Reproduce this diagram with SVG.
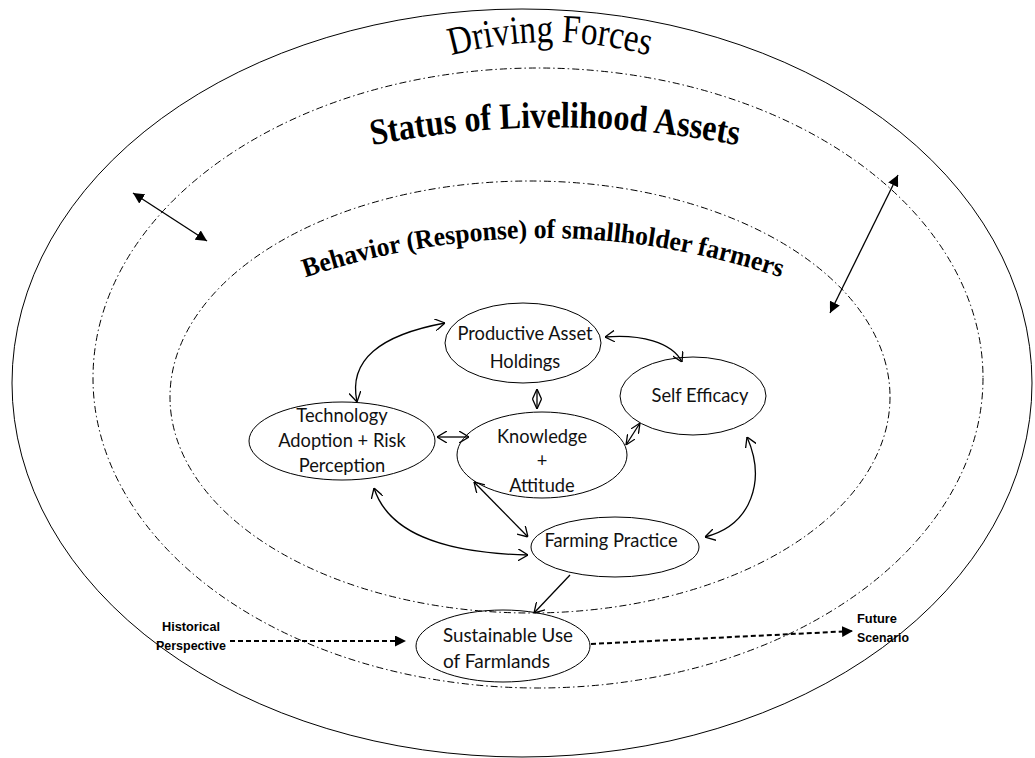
<svg xmlns="http://www.w3.org/2000/svg" width="1035" height="758" viewBox="0 0 1035 758">
<style>
.ring{fill:none;stroke:#000;stroke-width:1}
.dd{stroke-dasharray:7,3,1.5,3}
.node{fill:none;stroke:#000;stroke-width:1}
.lbl{font-family:Lato,"Liberation Sans",sans-serif;font-size:18.3px;fill:#111;text-anchor:middle}
.title{font-family:"Liberation Serif",serif;fill:#000}
.small{font-family:"Liberation Sans",sans-serif;font-size:12px;font-weight:bold;fill:#000}
.c{fill:none;stroke:#000;stroke-width:1.3}
.dash{fill:none;stroke:#000;stroke-width:2;stroke-dasharray:5,3}
</style>
<defs>
<marker id="v" viewBox="0 0 10 12" refX="10" refY="6" markerWidth="10" markerHeight="12" markerUnits="userSpaceOnUse" orient="auto-start-reverse">
<path d="M0,0 L10,6 L0,12" fill="none" stroke="#000" stroke-width="1.3"/>
</marker>
<marker id="vs" viewBox="0 0 10 10" refX="10" refY="5" markerWidth="10" markerHeight="10" markerUnits="userSpaceOnUse" orient="auto-start-reverse">
<path d="M0,0.5 L10,5 L0,9.5" fill="none" stroke="#000" stroke-width="1.3"/>
</marker>
<marker id="tri" viewBox="0 0 10 10" refX="10" refY="5" markerWidth="11" markerHeight="11" markerUnits="userSpaceOnUse" orient="auto-start-reverse">
<path d="M0,0 L10,5 L0,10 Z" fill="#000"/>
</marker>
<path id="arc1" d="M 380,82 Q 550,2 720,82"/>
<path id="arc2" d="M 300,162 Q 555,93 810,162"/>
<path id="arc3" d="M 250,298 Q 543,178 836,298"/>
</defs>
<rect width="1035" height="758" fill="#fff"/>

<g id="rings">
<ellipse class="ring" cx="522" cy="383" rx="510" ry="374"/>
<ellipse class="ring dd" cx="538" cy="378" rx="445" ry="310"/>
<ellipse class="ring dd" cx="530" cy="397" rx="360" ry="216"/>
</g>

<g id="titles">
<text class="title" font-size="40"><textPath href="#arc1" startOffset="50%" text-anchor="middle" textLength="200" lengthAdjust="spacingAndGlyphs">Driving Forces</textPath></text>
<text class="title" font-size="37" font-weight="bold"><textPath href="#arc2" startOffset="50%" text-anchor="middle" textLength="368" lengthAdjust="spacingAndGlyphs">Status of Livelihood Assets</textPath></text>
<text class="title" font-size="27" font-weight="bold"><textPath href="#arc3" startOffset="50%" text-anchor="middle" textLength="484" lengthAdjust="spacingAndGlyphs">Behavior (Response) of smallholder farmers</textPath></text>
</g>

<g id="connectors">
<line class="c" x1="133" y1="193" x2="207" y2="241" marker-start="url(#tri)" marker-end="url(#tri)"/>
<line class="c" x1="898" y1="175" x2="830" y2="313" marker-start="url(#tri)" marker-end="url(#tri)"/>
<path class="c" d="M 357,402 C 348,360 380,335 445,323" marker-start="url(#v)" marker-end="url(#v)"/>
<path class="c" d="M 605,337 C 640,334 672,342 682,362" marker-start="url(#v)" marker-end="url(#v)"/>
<line class="c" x1="537" y1="389" x2="537" y2="409" marker-start="url(#vs)" marker-end="url(#vs)"/>
<line class="c" x1="626" y1="445" x2="640" y2="423" marker-start="url(#vs)" marker-end="url(#vs)"/>
<line class="c" x1="437" y1="437" x2="469" y2="437" marker-start="url(#v)" marker-end="url(#v)"/>
<line class="c" x1="474" y1="482" x2="528" y2="537" marker-start="url(#v)" marker-end="url(#v)"/>
<path class="c" d="M 374,488 C 388,532 440,553 528,555" marker-start="url(#v)" marker-end="url(#v)"/>
<path class="c" d="M 747,437 C 766,480 752,525 705,537" marker-start="url(#v)" marker-end="url(#v)"/>
<line class="c" x1="570" y1="575" x2="534" y2="613" marker-end="url(#v)"/>
<line class="dash" x1="230" y1="641" x2="406" y2="641" marker-end="url(#tri)"/>
<line class="dash" x1="591" y1="644" x2="853" y2="631" marker-end="url(#tri)"/>
</g>

<g id="productive">
<ellipse class="node" cx="523" cy="343" rx="78" ry="40"/>
<text class="lbl" x="525" y="340">Productive Asset</text>
<text class="lbl" x="525" y="368">Holdings</text>
</g>
<g id="selfefficacy">
<ellipse class="node" cx="693" cy="396" rx="73" ry="39"/>
<text class="lbl" x="700" y="402">Self Efficacy</text>
</g>
<g id="technology">
<ellipse class="node" cx="342" cy="441" rx="93" ry="39"/>
<text class="lbl" x="342" y="422">Technology</text>
<text class="lbl" x="342" y="447">Adoption + Risk</text>
<text class="lbl" x="342" y="472">Perception</text>
</g>
<g id="knowledge">
<ellipse class="node" cx="542" cy="455" rx="85" ry="43"/>
<text class="lbl" x="542" y="443">Knowledge</text>
<text class="lbl" x="542" y="467">+</text>
<text class="lbl" x="542" y="492">Attitude</text>
</g>
<g id="farming">
<ellipse class="node" cx="615" cy="547" rx="84" ry="30"/>
<text class="lbl" x="611" y="547">Farming Practice</text>
</g>
<g id="sustainable">
<ellipse class="node" cx="503" cy="646" rx="87" ry="36"/>
<text class="lbl" x="443" y="642" style="text-anchor:start" textLength="130" lengthAdjust="spacingAndGlyphs">Sustainable Use</text>
<text class="lbl" x="443" y="668" style="text-anchor:start" textLength="107" lengthAdjust="spacingAndGlyphs">of Farmlands</text>
</g>
<g id="historical">
<text class="small" x="191" y="631" text-anchor="middle" textLength="58" lengthAdjust="spacingAndGlyphs">Historical</text>
<text class="small" x="191" y="650" text-anchor="middle" textLength="70" lengthAdjust="spacingAndGlyphs">Perspective</text>
</g>
<g id="future">
<text class="small" x="857" y="623" textLength="40" lengthAdjust="spacingAndGlyphs">Future</text>
<text class="small" x="857" y="642" textLength="52" lengthAdjust="spacingAndGlyphs">Scenario</text>
</g>
</svg>
